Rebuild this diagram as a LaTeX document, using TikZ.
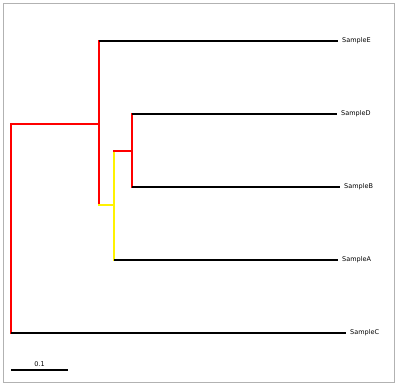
\documentclass[tikz,border=0pt]{standalone}
\usepackage{fontspec}
\setsansfont{DejaVu Sans}
\usepackage{tikz}
\usetikzlibrary{calc}
\usetikzlibrary{positioning}
\tikzset{leaf/.style={inner sep=0pt,font=\sffamily\fontsize{6.5}{7.5}\selectfont}}
\tikzset{blk/.style={draw=black,line width=1.9pt}}
\tikzset{hot/.style={draw=red,line width=1.8pt,line cap=rect}}
\tikzset{pale/.style={draw=yellow,line width=1.9pt,line cap=rect}}

\begin{document}
\begin{tikzpicture}[x=1pt,y=-1pt,node distance=4pt]
\useasboundingbox (0,0) rectangle (398,386);
\draw[gray!60,line width=1pt] (3,3) rectangle (394,382);

% inner nodes of the tree
\coordinate (r) at (11,228);
\coordinate (n1) at (99,124);
\coordinate (n2) at (114,205);
\coordinate (n3) at (132,151);

% tips and their labels
\foreach \n/\x/\y in {E/338/41, D/337/114, B/340/187, A/338/260, C/346/333}
  {
 \coordinate (t\n) at (\x,\y);
 \node[leaf, right=of t\n] (l\n) {Sample\n};
 }

% verticals
\draw[hot] (r |- n1) -- (r |- tC);
\draw[hot] (n1 |- tE) -- (n1 |- n2);
\draw[pale] (n2 |- n3) -- (n2 |- tA);
\draw[hot] (n3 |- tD) -- (n3 |- tB);

% horizontals
\draw[hot] (r |- n1) -- (n1);
\draw[pale] (n1 |- n2) -- (n2);
\draw[hot] (n2 |- n3) -- (n3);
\draw[blk] (r |- tC) -- (tC);
\draw[blk] (n1 |- tE) -- (tE);
\draw[blk] (n2 |- tA) -- (tA);
\foreach \n in {D, B}
  {
 \draw[blk] (n3 |- t\n) -- (t\n);
 }

% scale bar
\coordinate (s0) at (11,370);
\coordinate (s1) at (68,370);
\draw[blk] (s0) -- (s1);
\node[leaf, above=3pt of $(s0)!0.5!(s1)$] (sl) {0.1};

\end{tikzpicture}
\end{document}
